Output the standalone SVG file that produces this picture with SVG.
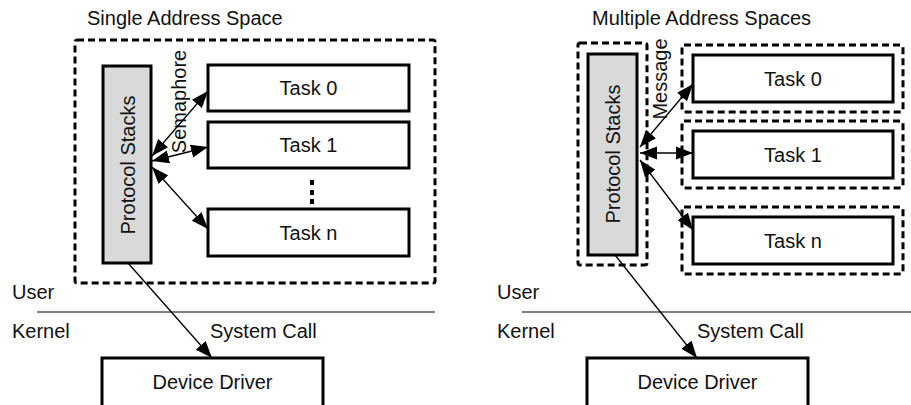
<svg xmlns="http://www.w3.org/2000/svg" width="911" height="405" viewBox="0 0 911 405">
<defs>
<marker id="ah" markerUnits="userSpaceOnUse" markerWidth="18" markerHeight="14" refX="17" refY="7" orient="auto-start-reverse">
<path d="M0,0.5 L17,7 L0,13.5 z" fill="#000"/>
</marker>
<style>
text{font-family:"Liberation Sans",Arial,sans-serif;font-size:20px;fill:#111}
.dash{fill:none;stroke:#000;stroke-width:3;stroke-dasharray:7 4}
.box{fill:#fff;stroke:#000;stroke-width:3}
.ps{fill:#d9d9d9;stroke:#000;stroke-width:3}
.c{fill:none;stroke:#000;stroke-width:1.3}
.sep{stroke:#808080;stroke-width:2}
.m{text-anchor:middle}
</style>
</defs>
<rect width="911" height="405" fill="#fff"/>

<!-- Left: Single Address Space -->
<g id="left-title"><text x="87" y="25">Single Address Space</text></g>
<g id="left-space"><rect class="dash" x="75" y="40" width="360" height="243" rx="2"/></g>
<g id="left-ps">
<rect class="ps" x="103" y="66" width="48" height="197"/>
<text class="m" x="134.5" y="165" transform="rotate(-90 134.5 165)">Protocol Stacks</text>
</g>
<g id="left-task0"><rect class="box" x="208" y="65" width="201" height="46"/><text class="m" x="308.5" y="95">Task 0</text></g>
<g id="left-task1"><rect class="box" x="208" y="122" width="201" height="46"/><text class="m" x="308.5" y="152">Task 1</text></g>
<g id="left-dots"><rect x="310" y="180" width="4" height="5"/><rect x="310" y="190" width="4" height="5"/><rect x="310" y="199" width="4" height="5"/></g>
<g id="left-taskn"><rect class="box" x="208" y="209" width="201" height="47"/><text class="m" x="308.5" y="239.5">Task n</text></g>
<g id="left-sema"><text class="m" x="186" y="101.5" transform="rotate(-90 186 101.5)">Semaphore</text></g>
<g id="left-dd"><rect class="box" x="102" y="358" width="221" height="60"/><text class="m" x="212.5" y="389">Device Driver</text></g>

<!-- Right: Multiple Address Spaces -->
<g id="right-title"><text x="592" y="25">Multiple Address Spaces</text></g>
<g id="right-ps">
<rect class="dash" x="578" y="43" width="69" height="222" rx="2"/>
<rect class="ps" x="588" y="54" width="49" height="201"/>
<text class="m" x="620" y="154" transform="rotate(-90 620 154)">Protocol Stacks</text>
</g>
<g id="right-task0"><rect class="dash" x="682" y="45" width="221" height="67" rx="2"/><rect class="box" x="693" y="55" width="200" height="47"/><text class="m" x="793" y="85.5">Task 0</text></g>
<g id="right-task1"><rect class="dash" x="682" y="121" width="221" height="67" rx="2"/><rect class="box" x="693" y="131" width="200" height="47"/><text class="m" x="793" y="161.5">Task 1</text></g>
<g id="right-taskn"><rect class="dash" x="682" y="207" width="221" height="67" rx="2"/><rect class="box" x="693" y="217" width="200" height="47"/><text class="m" x="793" y="247.5">Task n</text></g>
<g id="right-msg"><text class="m" x="667" y="79" transform="rotate(-90 667 79)">Message</text></g>
<g id="right-dd"><rect class="box" x="587" y="358" width="221" height="60"/><text class="m" x="697.5" y="389">Device Driver</text></g>

<!-- User / Kernel -->
<g id="labels">
<text x="12" y="299">User</text>
<text x="12" y="338">Kernel</text>
<text x="210" y="338">System Call</text>
<text x="497" y="299">User</text>
<text x="497" y="338">Kernel</text>
<text x="697" y="338">System Call</text>
</g>
<g id="separators">
<line class="sep" x1="37" y1="312" x2="435" y2="312"/>
<line class="sep" x1="522" y1="312" x2="911" y2="312"/>
</g>

<g id="connectors">
<line class="c" x1="152" y1="156" x2="208" y2="91" marker-start="url(#ah)" marker-end="url(#ah)"/>
<line class="c" x1="152" y1="161" x2="208" y2="147" marker-start="url(#ah)" marker-end="url(#ah)"/>
<line class="c" x1="152" y1="167" x2="208" y2="229" marker-start="url(#ah)" marker-end="url(#ah)"/>
<line class="c" x1="128" y1="263" x2="212" y2="358" marker-end="url(#ah)"/>
<line class="c" x1="640" y1="147" x2="693" y2="84" marker-start="url(#ah)" marker-end="url(#ah)"/>
<line class="c" x1="640" y1="153" x2="693" y2="153" marker-start="url(#ah)" marker-end="url(#ah)"/>
<line class="c" x1="640" y1="160" x2="693" y2="230" marker-start="url(#ah)" marker-end="url(#ah)"/>
<line class="c" x1="615" y1="255" x2="697" y2="358" marker-end="url(#ah)"/>
</g>
</svg>
